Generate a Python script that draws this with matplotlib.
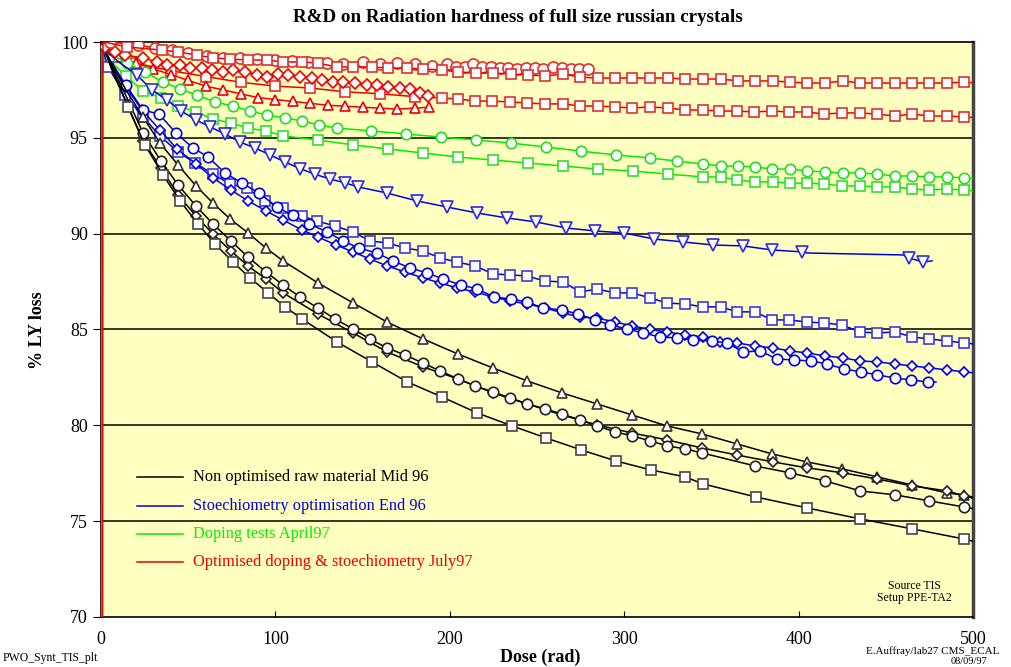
import numpy as np
import matplotlib
matplotlib.use('Agg')
import matplotlib.pyplot as plt

plt.rcParams['font.family'] = ['Liberation Serif', 'DejaVu Serif']

# ---- data (dose in rad, % LY) ----
# black : non optimised raw material mid 96
blk_sq_d = [2, 6, 15.5, 25.2, 35.6, 45.3, 55.6, 65.4, 75.7, 85.4, 95.8, 105.5, 115.3, 135.3, 155.4, 175.5,
            195.5, 215.6, 235.7, 255.2, 275.2, 295.3, 315.4, 334.9, 345.2, 375.6, 404.8, 435.2, 465.0, 494.8, 500]
blk_sq_v = [99.6, 98.6, 96.61, 94.63, 93.06, 91.71, 90.51, 89.46, 88.52, 87.69, 86.91, 86.18, 85.55, 84.35, 83.31, 82.27,
            81.48, 80.65, 79.97, 79.34, 78.72, 78.14, 77.67, 77.31, 76.94, 76.26, 75.69, 75.12, 74.60, 74.07, 73.95]

blk_ci_d = [2, 6, 14.3, 24.1, 34.4, 44.2, 54.5, 64.2, 74.5, 84.3, 94.6, 104.4, 114.1, 124.4, 134.2, 144.5, 154.2,
            164.0, 174.3, 184.6, 194.4, 204.7, 214.4, 224.8, 234.5, 244.3, 254.6, 264.3, 274.7, 284.4, 294.7, 304.5,
            314.8, 324.5, 334.9, 344.6, 375.0, 395.1, 415.1, 435.2, 455.3, 474.8, 494.8, 500]
blk_ci_v = [99.6, 98.8, 97.2, 95.25, 93.79, 92.54, 91.44, 90.51, 89.62, 88.78, 88.0, 87.32, 86.70, 86.12, 85.55, 85.03, 84.50,
            84.04, 83.67, 83.25, 82.84, 82.42, 82.06, 81.74, 81.43, 81.12, 80.86, 80.59, 80.28, 79.97, 79.66, 79.45,
            79.19, 78.93, 78.77, 78.56, 77.88, 77.52, 77.10, 76.58, 76.37, 76.06, 75.74, 75.65]

blk_di_d = [2, 6, 14.3, 24.1, 34.4, 44.2, 54.5, 64.2, 74.5, 84.3, 94.6, 104.4, 124.4, 144.5, 164.0, 184.6, 204.7,
            224.8, 244.3, 264.3, 284.4, 304.5, 324.5, 344.6, 364.7, 385.3, 404.8, 425.5, 445.0, 465.0, 485.1, 494.8, 500]
blk_di_v = [99.6, 98.7, 96.9, 94.84, 93.43, 92.02, 90.92, 89.98, 89.10, 88.31, 87.64, 86.91, 85.81, 84.82, 83.83, 83.05, 82.42,
            81.69, 81.12, 80.54, 80.02, 79.60, 79.24, 78.82, 78.45, 78.09, 77.78, 77.52, 77.20, 76.84, 76.58, 76.32, 76.2]

blk_tr_d = [2, 6, 14.3, 24.0, 33.8, 44.2, 54.5, 64.2, 74.0, 84.3, 94.6, 104.4, 124.4, 144.5, 164.0, 184.6, 204.7,
            224.8, 244.3, 264.3, 284.4, 304.5, 324.5, 344.6, 364.7, 384.7, 404.8, 424.9, 445.0, 465.0, 485.1, 494.8, 500]
blk_tr_v = [99.6, 98.9, 97.5, 96.1, 94.73, 93.58, 92.49, 91.60, 90.77, 90.04, 89.25, 88.58, 87.43, 86.39, 85.39, 84.51, 83.72,
            82.99, 82.32, 81.69, 81.12, 80.54, 79.97, 79.55, 79.03, 78.51, 78.09, 77.73, 77.31, 76.89, 76.47, 76.37, 76.25]

# blue : stoechiometry optimisation end 96
blu_tr_d = [2, 11, 20.6, 29.2, 37.8, 46.0, 54.5, 62.6, 71.1, 79.7, 88.3, 96.9, 105.5, 114.0, 122.7, 131.3, 139.9, 147.4,
            164.0, 181.2, 198.4, 215.6, 232.8, 249.4, 266.6, 283.3, 299.9, 317.1, 333.7, 350.9, 368.1, 384.7, 401.9,
            405.4, 459.9, 463.3, 471.3, 476.5]
blu_tr_v = [99.6, 98.9, 98.28, 97.50, 96.97, 96.4, 95.93, 95.57, 95.20, 94.78, 94.47, 94.11, 93.74, 93.4, 93.1, 92.85, 92.65, 92.44,
            92.12, 91.71, 91.39, 91.08, 90.82, 90.61, 90.30, 90.14, 90.04, 89.72, 89.57, 89.41, 89.36, 89.15, 89.05,
            88.99, 88.89, 88.73, 88.52, 88.58]

blu_sq_d = [1, 4.0, 13.8, 24.1, 33.8, 44.2, 53.9, 64.2, 74.0, 83.7, 94.0, 104.4, 115.3, 123.9, 134.2, 144.5, 154.2, 164.6,
            174.3, 184.6, 194.4, 204.1, 214.4, 224.8, 234.5, 244.3, 254.6, 264.9, 274.7, 284.4, 294.7, 304.5, 314.8,
            324.5, 334.9, 345.2, 355.5, 364.7, 375.0, 384.7, 394.5, 404.8, 414.6, 424.9, 435.2, 445.0, 455.3, 465.0,
            474.8, 485.1, 494.8, 500]
blu_sq_v = [99.6, 98.70, 97.24, 96.09, 95.10, 94.26, 93.69, 93.11, 92.59, 92.38, 91.71, 91.34, 90.92, 90.66, 90.40, 90.09, 89.62, 89.51,
            89.25, 89.10, 88.73, 88.52, 88.32, 87.90, 87.85, 87.79, 87.53, 87.48, 86.96, 87.11, 86.91, 86.91, 86.65,
            86.38, 86.33, 86.18, 86.18, 85.92, 85.92, 85.50, 85.50, 85.39, 85.34, 85.24, 84.87, 84.82, 84.87, 84.61,
            84.51, 84.40, 84.30, 84.25]

blu_di_d = [2, 14.3, 23.5, 33.8, 43.6, 54.5, 64.2, 74.5, 84.3, 94.6, 104.4, 115.3, 124.4, 134.7, 144.5, 154.2, 164.0,
            174.3, 184.6, 194.4, 204.1, 214.4, 224.8, 234.5, 244.3, 254.6, 264.9, 274.7, 284.4, 294.7, 304.5, 314.8,
            324.5, 334.9, 345.2, 354.9, 364.7, 375.0, 385.3, 395.1, 404.8, 415.1, 425.5, 435.2, 445.0, 455.3, 465.0,
            474.8, 485.1, 494.8, 500]
blu_di_v = [99.5, 97.65, 96.45, 95.41, 94.42, 93.64, 92.91, 92.28, 91.71, 91.19, 90.71, 90.19, 89.83, 89.41, 89.05, 88.68, 88.32,
            88.00, 87.69, 87.43, 87.17, 86.96, 86.70, 86.49, 86.33, 86.12, 85.86, 85.65, 85.60, 85.39, 85.19, 85.0,
            84.87, 84.72, 84.61, 84.35, 84.30, 84.14, 84.04, 83.88, 83.78, 83.62, 83.52, 83.36, 83.31, 83.20, 83.10,
            83.00, 82.89, 82.79, 82.74]

blu_ci_d = [2, 14.3, 24.1, 33.3, 43.0, 52.8, 61.4, 71.1, 80.8, 90.6, 100.9, 110.0, 119.3, 129.6, 138.8, 147.9, 158.3,
            167.4, 177.2, 186.9, 196.1, 206.4, 215.6, 225.3, 235.1, 244.3, 253.4, 264.3, 273.5, 283.3, 291.9, 301.6,
            310.8, 320.5, 330.3, 339.4, 350.3, 358.9, 368.1, 377.9, 387.6, 397.4, 407.1, 416.3, 426.0, 435.8, 445.0,
            455.3, 464.4, 474.2, 478.8]
blu_ci_v = [99.5, 97.76, 96.45, 96.24, 95.25, 94.47, 94.00, 93.17, 92.64, 92.12, 91.39, 90.95, 90.51, 90.09, 89.62, 89.25, 88.99,
            88.58, 88.21, 87.95, 87.64, 87.32, 87.12, 86.70, 86.59, 86.44, 86.12, 86.02, 85.81, 85.50, 85.24, 85.03,
            84.82, 84.61, 84.56, 84.45, 84.40, 84.30, 83.83, 83.88, 83.46, 83.41, 83.36, 83.20, 82.94, 82.79, 82.63,
            82.47, 82.37, 82.26, 82.26]

# green : doping tests april 97 (first point: the vertical rise from the axis floor at dose 0)
grn_ci_d = [0.6, 0.8, 3, 14.9, 25.2, 35.6, 45.3, 55.0, 65.4, 75.7, 85.4, 95.2, 105.5, 115.3, 125.0, 135.3, 155, 175, 195, 215,
            235, 255, 275, 295, 315, 330, 345, 355.5, 365, 375, 385, 395, 405, 415, 425.5, 435, 445, 455, 465,
            475, 485, 495, 500]
grn_ci_v = [70, 99.6, 99.5, 98.90, 98.44, 97.91, 97.55, 97.24, 96.87, 96.66, 96.40, 96.19, 96.04, 95.88, 95.67, 95.51, 95.36, 95.20, 95.04, 94.89,
            94.73, 94.52, 94.31, 94.11, 93.95, 93.79, 93.64, 93.53, 93.53, 93.48, 93.37, 93.37, 93.27, 93.22, 93.17,
            93.17, 93.11, 93.01, 93.01, 92.96, 92.96, 92.91, 92.88]

grn_sq_d = [0.6, 0.8, 4.6, 14.3, 24.1, 34.4, 44.2, 54.5, 64.2, 74.5, 84.3, 94.6, 104.4, 124.4, 144.5, 164.6, 184.6, 204.7,
            224.8, 244.8, 264.9, 285.0, 305.0, 325.1, 345.2, 355.5, 364.7, 375.0, 385.3, 395.1, 404.8, 414.6, 424.9,
            435.2, 445.0, 455.3, 465.0, 474.8, 485.1, 494.8, 500]
grn_sq_v = [70, 99.7, 99.06, 98.23, 97.44, 97.08, 96.66, 96.35, 95.98, 95.77, 95.51, 95.36, 95.10, 94.89, 94.63, 94.42, 94.21, 94.00,
            93.84, 93.69, 93.53, 93.37, 93.27, 93.11, 92.96, 92.96, 92.80, 92.70, 92.70, 92.64, 92.64, 92.59, 92.49,
            92.49, 92.44, 92.44, 92.33, 92.28, 92.33, 92.28, 92.25]

# red : optimised doping & stoechiometry july 97
red_sq1_d = [0.9, 1.1, 2, 14.9, 35.0, 44.2, 55.0, 64.2, 74.0, 84.3, 95.2, 104.4, 115.3, 124.4, 135.3, 144.5, 155.4, 164.6,
             175.5, 184.6, 195.5, 204.7, 215.0, 224.8, 235.1, 244.8, 254.6, 264.9, 274.7, 285.0, 294.7, 304.5, 314.8,
             325.1, 334.9, 345.2, 355.5, 365.3, 375.0, 385.3, 395.1, 404.8, 415.1, 425.5, 435.2, 445.0, 455.3, 465.0,
             474.8, 485.1, 494.8, 500]
red_sq1_v = [70, 99.9, 100.0, 99.74, 99.58, 99.48, 99.32, 99.17, 99.11, 99.06, 99.06, 98.96, 98.96, 98.90, 98.70, 98.70, 98.70, 98.64,
             98.64, 98.59, 98.54, 98.44, 98.38, 98.38, 98.33, 98.28, 98.23, 98.33, 98.17, 98.12, 98.12, 98.12, 98.12,
             98.12, 98.07, 98.07, 98.07, 97.97, 97.97, 97.97, 97.91, 97.86, 97.86, 97.97, 97.86, 97.86, 97.86, 97.86,
             97.86, 97.86, 97.91, 97.88]

red_ci_d = [1.1, 5.2, 21.2, 31.0, 40.7, 49.9, 60.8, 70.0, 79.7, 89.4, 99.8, 109.5, 118.7, 129.6, 138.8, 150.2, 160.0,
            169.7, 180.0, 189.8, 198.4, 203.6, 208.7, 213.3, 218.5, 223.6, 228.8, 233.4, 238.5, 243.7, 248.9, 253.4,
            259.2, 264.3, 269.5, 274.1, 279.2]
red_ci_v = [99.9, 100.0, 99.84, 99.69, 99.58, 99.43, 99.27, 99.17, 99.17, 99.11, 99.06, 99.01, 98.96, 98.90, 98.85, 98.96, 98.85,
            98.90, 98.85, 98.75, 98.85, 98.70, 98.70, 98.85, 98.70, 98.70, 98.64, 98.64, 98.59, 98.64, 98.64, 98.59,
            98.70, 98.64, 98.59, 98.59, 98.59]

red_sq2_d = [1.1, 3, 20, 40, 60, 80, 100, 120, 140, 160, 180, 195.5, 204.7, 214.4, 224.2, 234.5, 244.3, 254.6, 264.9,
             274.7, 285.0, 294.7, 304.5, 314.8, 325.1, 334.9, 345.2, 354.4, 364.7, 374.4, 384.7, 394.5, 404.8, 414.6,
             424.9, 435.2, 445.0, 455.3, 465.0, 474.8, 485.1, 494.8, 500]
red_sq2_v = [99.8, 99.5, 98.9, 98.5, 98.2, 97.9, 97.7, 97.6, 97.4, 97.3, 97.15, 97.08, 97.03, 96.92, 96.92, 96.87, 96.82, 96.77, 96.77,
             96.66, 96.66, 96.61, 96.56, 96.61, 96.56, 96.45, 96.45, 96.40, 96.40, 96.35, 96.40, 96.35, 96.35, 96.24,
             96.30, 96.30, 96.24, 96.14, 96.24, 96.14, 96.14, 96.09, 96.07]

red_di_d = [1.1, 2.3, 8.0, 13.8, 24.1, 32.1, 37.8, 45.3, 51.0, 57.9, 63.6, 70.0, 75.7, 82.6, 89.4, 95.2, 101.5, 107.2,
            114.1, 121.0, 126.7, 133.0, 138.8, 145.6, 152.5, 158.3, 164.6, 171.4, 177.2, 182.9, 187.5]
red_di_v = [99.8, 99.74, 99.48, 99.32, 99.17, 98.96, 98.80, 98.80, 98.64, 98.64, 98.54, 98.44, 98.54, 98.44, 98.28, 98.17, 98.33, 98.28,
            98.17, 98.12, 98.02, 97.91, 97.91, 97.86, 97.76, 97.76, 97.65, 97.60, 97.55, 97.34, 97.18]

red_tr_d = [1.1, 2, 10, 20, 30, 40, 50, 60, 70, 80, 90, 100, 110, 120, 130, 140, 150, 160, 170, 180, 188]
red_tr_v = [99.8, 99.7, 99.2, 98.9, 98.6, 98.3, 98.0, 97.7, 97.5, 97.3, 97.1, 97.0, 96.9, 96.8, 96.7, 96.65, 96.6, 96.55, 96.5, 96.55, 96.6]

legend_labels = ['Non optimised raw material Mid 96', 'Stoechiometry optimisation End 96',
                 'Doping tests April97', 'Optimised doping & stoechiometry July97']

BLACK = 'black'
BLUE = '#0000e6'
GREEN = '#00ee00'
RED = '#ee0000'

fig = plt.figure(figsize=(10.12, 6.67), dpi=100)
ax = fig.add_axes([0.0998, 0.075, 0.8617, 0.862])
ax.set_facecolor('#ffffc0')


def draw(d, v, col, mk, edge, ms=7, skip_first=1, skip_last=True, idx=None, z=3):
    if idx is None:
        n = len(d)
        last = n - 1 if skip_last else n
        idx = list(range(skip_first, last))
    ax.plot(d, v, color=col, lw=1.1, marker=mk, markevery=idx, ms=ms,
            mfc='white', mec=edge, mew=1.2, zorder=z)


draw(red_sq2_d, red_sq2_v, RED, 's', '#e03030', ms=7.5, skip_first=2, z=2)
draw(red_tr_d, red_tr_v, RED, '^', RED, ms=7.5, skip_first=2, skip_last=False, z=3)
draw(red_di_d, red_di_v, RED, 'D', RED, ms=6, skip_first=1, skip_last=False, z=4)
draw(red_ci_d, red_ci_v, RED, 'o', '#e03030', ms=8, skip_first=1, skip_last=False, z=4)
draw(red_sq1_d, red_sq1_v, RED, 's', '#e03030', ms=7.5, skip_first=3, z=5)

draw(grn_ci_d, grn_ci_v, GREEN, 'o', '#22dd22', ms=7.5, skip_first=3)
draw(grn_sq_d, grn_sq_v, GREEN, 's', '#33dd33', ms=7.5, skip_first=2)

draw(blu_tr_d, blu_tr_v, BLUE, 'v', '#2a2ae0', ms=8, idx=list(range(2, 33)) + [35, 36])
draw(blu_sq_d, blu_sq_v, BLUE, 's', '#3a3ae0', ms=7.5, skip_first=1)
draw(blu_di_d, blu_di_v, BLUE, 'D', BLUE, ms=5.5, skip_first=1)
draw(blu_ci_d, blu_ci_v, BLUE, 'o', BLUE, ms=7.5, skip_first=1)

draw(blk_tr_d, blk_tr_v, BLACK, '^', '#333333', ms=7.5, skip_first=3)
draw(blk_di_d, blk_di_v, BLACK, 'D', '#222222', ms=5.5, skip_first=3)
draw(blk_ci_d, blk_ci_v, BLACK, 'o', '#222222', ms=7.5, skip_first=3)
draw(blk_sq_d, blk_sq_v, BLACK, 's', '#444444', ms=7.5, skip_first=2)

ax.set_xlim(0, 500)
ax.set_ylim(70, 100)
ax.set_xticks(range(0, 501, 100))
ax.set_yticks(range(70, 101, 5))
for yy in range(75, 100, 5):
    ax.axhline(yy, color='black', lw=1.1, zorder=1)
ax.tick_params(axis='x', direction='in', length=4, labelsize=13, pad=10)
ax.tick_params(axis='y', direction='out', length=6, labelsize=13)
for s in ['left', 'bottom', 'top']:
    ax.spines[s].set_linewidth(1.2)
ax.spines['right'].set_linewidth(2.5)
ax.spines['right'].set_color('#444444')

# legend drawn as lines + coloured text
leg_cols = [BLACK, BLUE, GREEN, RED]
leg_y = [0.2435, 0.193, 0.1443, 0.0957]
for lab, c, yy in zip(legend_labels, leg_cols, leg_y):
    ax.plot([0.0413, 0.094], [yy, yy], color=c, lw=1.1, transform=ax.transAxes, zorder=6)
    ax.text(0.1055, yy, lab, color=c, fontsize=11.8, va='center', ha='left', transform=ax.transAxes, zorder=6)

ax.text(0.933, 0.0435, 'Source TIS\nSetup PPE-TA2', fontsize=8.5, ha='center', va='center',
        transform=ax.transAxes, linespacing=1.1)

fig.text(0.512, 0.974, 'R&D on Radiation hardness of full size russian crystals', fontsize=13.7,
         fontweight='bold', ha='center', va='center')
fig.text(0.0375, 0.505, '% LY loss', fontsize=13, fontweight='bold', rotation=90, ha='center', va='center')
fig.text(0.534, 0.015, 'Dose (rad)', fontsize=13, fontweight='bold', ha='center', va='center')
fig.text(0.003, 0.013, 'PWO_Synt_TIS_plt', fontsize=8.5, ha='left', va='center')
fig.text(0.988, 0.024, 'E.Auffray/lab27 CMS_ECAL', fontsize=8, ha='right', va='center')
fig.text(0.958, 0.002, '08/09/97', fontsize=7.5, ha='center', va='bottom')

fig.savefig('out.png', dpi=100)
